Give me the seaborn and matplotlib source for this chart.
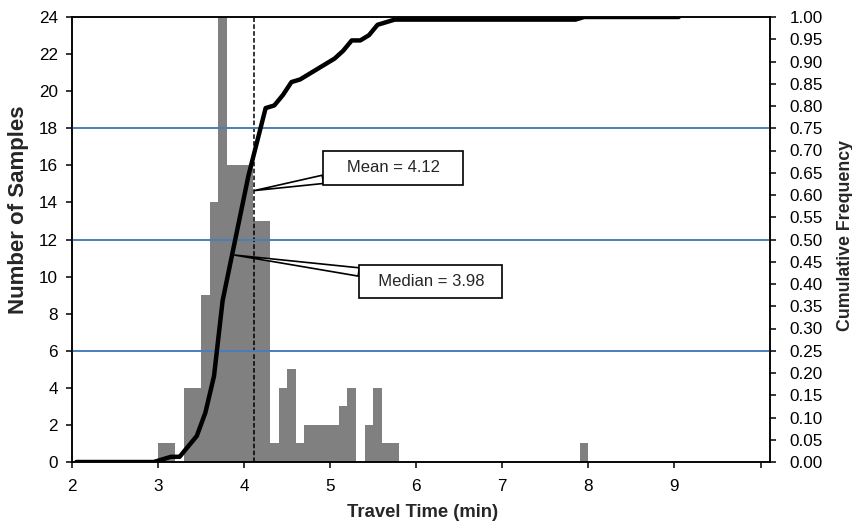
import matplotlib
matplotlib.use("Agg")
import matplotlib.pyplot as plt
import matplotlib.ticker as mticker
import numpy as np
import pandas as pd
import seaborn as sns

sns.set_theme(style="ticks")
plt.rcParams["font.family"] = ["Liberation Sans", "DejaVu Sans"]

# histogram bins (left edge, width 0.1) that hold samples, and their counts
bin_start = [3.0, 3.1, 3.3, 3.4, 3.5, 3.6, 3.7, 3.8, 3.9, 4.0, 4.1, 4.2, 4.3, 4.4,
             4.5, 4.6, 4.7, 4.8, 4.9, 5.0, 5.1, 5.2, 5.4, 5.5, 5.6, 5.7, 7.9]
counts = [1, 1, 4, 4, 9, 14, 29, 16, 16, 16, 13, 13, 1, 4,
          5, 1, 2, 2, 2, 2, 3, 4, 2, 4, 1, 1, 1]

mean_time = 4.12
median_time = 3.98
quartile_lines = [0.25, 0.50, 0.75]

x_ticks = [2, 3, 4, 5, 6, 7, 8, 9, 10]
x_tick_labels = ["2", "3", "4", "5", "6", "7", "8", "9", ""]

BAR_GRAY = "#808080"
LINE_BLUE = "#4A7EBB"

# full grid of bins 2.0 .. 9.0 for the cumulative curve
grid = pd.DataFrame({"start": np.round(np.arange(2.0, 9.05, 0.1), 1)})
hist = pd.DataFrame({"start": bin_start, "count": counts})
df = grid.merge(hist, on="start", how="left").fillna(0)
df["center"] = df["start"] + 0.05
df["cum"] = df["count"].cumsum() / df["count"].sum()

fig = plt.figure(figsize=(8.53, 5.25), dpi=100)
ax = fig.add_axes([72 / 853, 63 / 525, 698 / 853, 445 / 525])
ax2 = ax.twinx()

sns.histplot(x=df["center"], weights=df["count"], binwidth=0.1, binrange=(2.0, 9.1),
             color=BAR_GRAY, alpha=1, linewidth=0, ax=ax)
ax.axvline(mean_time, color="black", lw=1.1, ls=(0, (3, 1.5)), zorder=3)

for q in quartile_lines:
    ax2.axhline(q, color=LINE_BLUE, lw=1.4, zorder=1)
sns.lineplot(x=df["center"], y=df["cum"], color="black", lw=3.2, ax=ax2, zorder=3)

ax.set_xlim(2, 10.11)
ax.set_ylim(0, 24)
ax2.set_ylim(0, 1)
ax.set_xticks(x_ticks)
ax.set_xticklabels(x_tick_labels)
ax.set_yticks(range(0, 25, 2))
ax2.yaxis.set_major_locator(mticker.MultipleLocator(0.05))
ax2.yaxis.set_major_formatter(mticker.FormatStrFormatter("%.2f"))

for a in (ax, ax2):
    for spine in a.spines.values():
        spine.set_visible(True)
        spine.set_color("black")
        spine.set_linewidth(1.1)
    a.tick_params(length=4, width=1.1, color="black", labelsize=12.3, labelcolor="black")
ax.tick_params(axis="y", pad=6)
ax.tick_params(axis="x", pad=8)
ax2.tick_params(axis="y", pad=10)

ax.set_xlabel("Travel Time (min)", fontsize=13.3, fontweight="bold")
ax.set_ylabel("Number of Samples", fontsize=16, fontweight="bold")
ax2.set_ylabel("Cumulative Frequency", fontsize=12.8, fontweight="bold")
ax.xaxis.set_label_coords(0.502, -0.095)
ax.yaxis.set_label_coords(-0.062, 0.566)
ax2.yaxis.set_label_coords(1.096, 0.51)

wedge = dict(arrowstyle="wedge,tail_width=0.5,shrink_factor=0.5",
             fc="white", ec="black", lw=1.2, shrinkA=0, shrinkB=0)
box = dict(boxstyle="square,pad=0.55", fc="white", ec="black", lw=1.2)
ax2.annotate(f"   Mean = {mean_time:.2f}   ", xy=(mean_time, 0.61), xytext=(5.73, 0.661),
             ha="center", va="center", fontsize=12, bbox=box, arrowprops=wedge, zorder=5)
ax2.annotate(f"  Median = {median_time:.2f}  ", xy=(3.89, 0.465), xytext=(6.17, 0.405),
             ha="center", va="center", fontsize=12, bbox=box, arrowprops=wedge, zorder=5)

fig.savefig("out.png", dpi=100)
